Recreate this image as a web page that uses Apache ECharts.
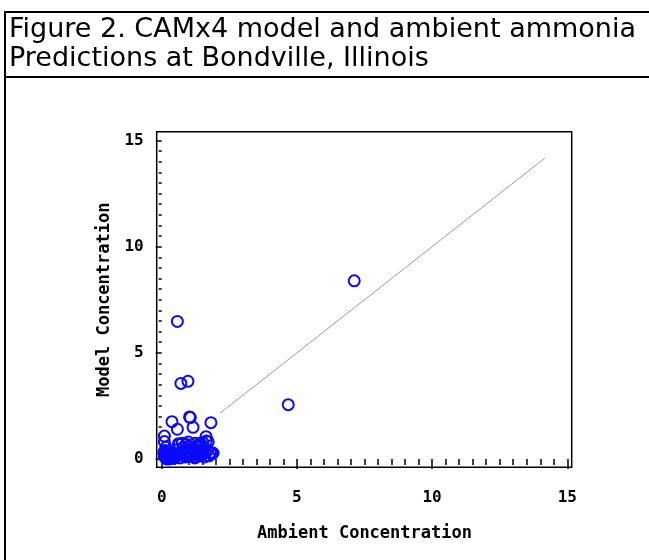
<!DOCTYPE html>
<html>
<head>
<meta charset="utf-8">
<script src="https://cdn.jsdelivr.net/npm/echarts@6/dist/echarts.min.js"></script>
<style>
  html, body { margin: 0; padding: 0; background: #fff; }
  #chart { width: 649px; height: 560px; }
</style>
</head>
<body>
<div id="chart"></div>
<script>
// figure title (two lines)
var titleLines = ['Figure 2. CAMx4 model and ambient ammonia', 'Predictions at Bondville, Illinois'];

var ambient = [
  7.12, 4.68, 0.58, 0.71, 0.97, 1.03, 1.06, 0.38, 0.58, 1.16, 1.82, 0.10, 0.10, 1.64, 1.72,
  0.10, 0.15, 0.20, 0.25, 0.30, 0.12, 0.35, 0.40, 0.45, 0.55,
  0.65, 0.70, 0.76, 0.80, 0.85, 0.90, 0.92, 0.95, 1.00, 1.05,
  1.10, 1.23, 1.20, 1.42, 1.30, 1.35, 1.40, 1.45, 1.50, 1.55,
  1.60, 1.65, 1.70, 1.80, 1.85, 0.22, 0.60, 1.28, 0.18, 0.50,
  0.08, 0.28, 0.42, 0.68, 0.78, 0.88, 1.02, 1.12, 1.22, 1.38,
  1.48, 1.58, 1.75, 1.90, 0.33, 0.62, 0.98, 1.33, 1.52, 0.16
];
var model = [
  8.39, 2.56, 6.48, 3.56, 3.66, 1.98, 1.95, 1.76, 1.40, 1.49, 1.71, 1.08, 0.82, 1.05, 0.81,
  0.10, 0.25, 0.05, 0.35, 0.15, 0.40, 0.02, 0.30, 0.12, 0.20,
  0.70, 0.30, 0.74, 0.55, 0.25, 0.70, 0.40, 0.15, 0.60, 0.30,
  0.20, 0.74, 0.45, 0.74, 0.25, 0.55, 0.35, 0.70, 0.20, 0.50,
  0.30, 0.85, 0.40, 0.30, 0.25, 0.22, 0.45, 0.10, 0.00, 0.05,
  0.30, 0.00, 0.20, 0.05, 0.35, 0.10, 0.15, 0.30, 0.05, 0.15,
  0.35, 0.10, 0.15, 0.28, 0.25, 0.72, 0.80, 0.65, 0.78, 0.55
];

// 1:1 reference line end points
var refLine = [[2.17, 2.17], [14.17, 14.17]];

var axisTicks = [0, 5, 10, 15];

var points = ambient.map(function (x, i) { return [x, model[i]]; });

var chart = echarts.init(document.getElementById('chart'));

var tickFont = {
  fontFamily: 'DejaVu Sans Mono',
  fontWeight: 'bold',
  fontSize: 16,
  color: '#000'
};

var option = {
  animation: false,
  backgroundColor: '#fff',
  title: {
    text: titleLines.join('\n'),
    left: 9,
    top: 15,
    padding: 0,
    textStyle: {
      fontFamily: 'DejaVu Sans',
      fontWeight: 'normal',
      fontSize: 27,
      lineHeight: 29,
      color: '#000'
    }
  },
  graphic: [
    { type: 'line', shape: { x1: 5, y1: 12, x2: 649, y2: 12 }, style: { stroke: '#000', lineWidth: 2 } },
    { type: 'line', shape: { x1: 5, y1: 77, x2: 649, y2: 77 }, style: { stroke: '#000', lineWidth: 2 } },
    { type: 'line', shape: { x1: 5, y1: 11, x2: 5, y2: 560 }, style: { stroke: '#000', lineWidth: 2 } }
  ],
  grid: [
    // data area
    { left: 161.7, right: 81.7, top: 140.5, bottom: 101 },
    // frame around plot
    { left: 156.7, right: 77.3, top: 131.7, bottom: 92.7, show: true, borderColor: '#000', borderWidth: 1.5, backgroundColor: 'transparent' }
  ],
  xAxis: [
    {
      type: 'value',
      gridIndex: 0,
      min: 0,
      max: 15,
      interval: 5,
      offset: 8,
      name: 'Ambient Concentration',
      nameLocation: 'middle',
      nameGap: 58,
      nameTextStyle: { fontFamily: 'DejaVu Sans Mono', fontWeight: 'bold', fontSize: 17, color: '#000' },
      axisLine: { show: false },
      axisTick: { show: true, inside: false, length: 10, lineStyle: { color: '#000', width: 1.5 } },
      minorTick: { show: true, splitNumber: 10, length: 6, lineStyle: { color: '#000', width: 1.5 } },
      splitLine: { show: false },
      axisLabel: Object.assign({ margin: 23, formatter: function (v) { return axisTicks.indexOf(v) >= 0 ? String(v) : ''; } }, tickFont)
    },
    { type: 'value', gridIndex: 1, show: false, min: 0, max: 1 }
  ],
  yAxis: [
    {
      type: 'value',
      gridIndex: 0,
      min: 0,
      max: 15,
      interval: 5,
      offset: 5,
      name: 'Model Concentration',
      nameLocation: 'middle',
      nameGap: 38,
      nameTextStyle: { fontFamily: 'DejaVu Sans Mono', fontWeight: 'bold', fontSize: 17, color: '#000' },
      axisLine: { show: false },
      axisTick: { show: true, inside: false, length: 6, lineStyle: { color: '#000', width: 1.5 } },
      minorTick: { show: true, splitNumber: 10, length: 3, lineStyle: { color: '#000', width: 1.5 } },
      splitLine: { show: false },
      axisLabel: Object.assign({ margin: 13 }, tickFont)
    },
    { type: 'value', gridIndex: 1, show: false, min: 0, max: 1 }
  ],
  series: [
    {
      type: 'line',
      xAxisIndex: 0,
      yAxisIndex: 0,
      data: refLine,
      symbol: 'none',
      lineStyle: { color: '#9a9a9a', width: 1 },
      z: 1
    },
    {
      type: 'scatter',
      xAxisIndex: 0,
      yAxisIndex: 0,
      data: points,
      symbol: 'circle',
      symbolSize: 11,
      itemStyle: { color: 'transparent', borderColor: '#0a0aff', borderWidth: 2, opacity: 1 },
      z: 2
    }
  ]
};

chart.setOption(option);
</script>
</body>
</html>
